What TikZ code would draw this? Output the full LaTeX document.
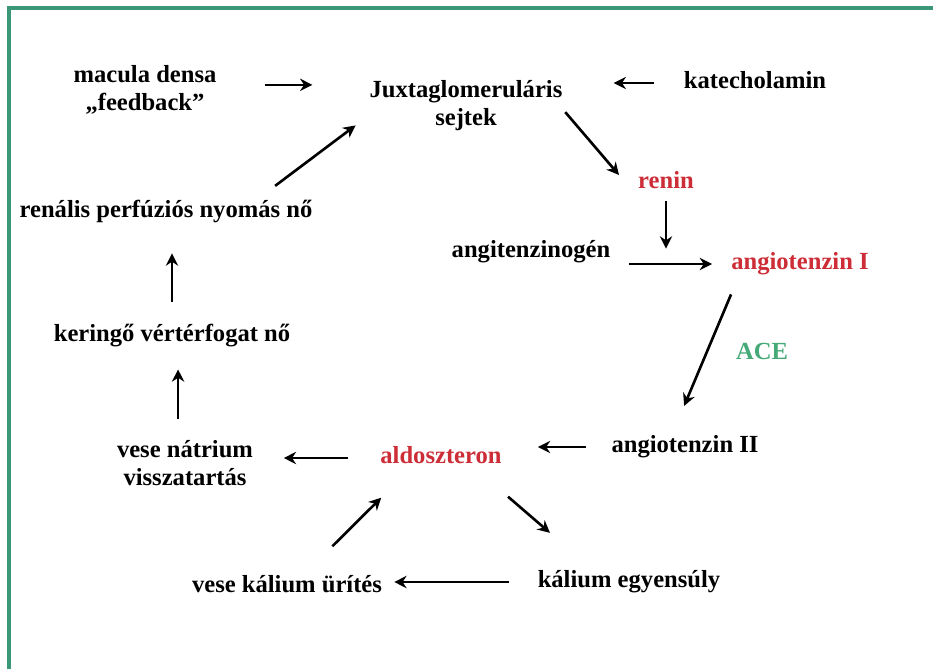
\documentclass[tikz,border=0pt]{standalone}
\usepackage{fontspec}
\setmainfont{Liberation Serif}
\usetikzlibrary{arrows.meta,calc}
\definecolor{keret}{RGB}{60,150,120}
\definecolor{piros}{RGB}{205,45,55}
\definecolor{zold}{RGB}{70,170,120}

\begin{document}
\begin{tikzpicture}[->,>={Stealth[length=7pt,width=7pt]},line width=1.5pt,
                    x=0.02cm,y=-0.02cm,font=\fontsize{14}{16}\selectfont\bfseries]
  \tikzstyle{cimke}=[inner sep=0pt,text height=9.8pt,text depth=3.4pt]
  \tikzstyle{cimke2}=[inner sep=0pt,align=center]

  \useasboundingbox (0,0) rectangle (933,669);
  \draw[-,keret,line width=2pt] (9,669) -- (9,8) -- (933,8);

  \node[cimke2] (mac)   at (145,90)  {macula densa\\„feedback”};
  \node[cimke2] (jux)   at (466,106) {Juxtaglomeruláris\\sejtek};
  \node[cimke]  (kat)   at (755,83)  {katecholamin};
  \node[cimke,text=piros] (renin) at (666,183) {renin};
  \node[cimke]  (angen) at (531,252) {angitenzinogén};
  \node[cimke,text=piros] (ang1) at (800,264) {angiotenzin I};
  \node[cimke,text=zold]  (ace)  at (762,354) {ACE};
  \node[cimke]  (ang2)  at (685,447) {angiotenzin II};
  \node[cimke,text=piros] (aldo) at (441,458) {aldoszteron};
  \node[cimke2] (natr)  at (185,463) {vese nátrium\\visszatartás};
  \node[cimke]  (ker)   at (172,336) {keringő vértérfogat nő};
  \node[cimke]  (ren)   at (166,212) {renális perfúziós nyomás nő};
  \node[cimke]  (kal)   at (629,582) {kálium egyensúly};
  \node[cimke]  (vkal)  at (287,587) {vese kálium ürítés};

  \coordinate (mac-ki) at ($(mac.east)!.2!(mac.north east)$);
  \coordinate (natr-ki) at ($(natr.north)!.1!(natr.north west)$);

  \draw[shorten <=0.94cm,shorten >=1.12cm] (mac-ki) -- (mac-ki -| jux.west);
  \draw[shorten <=0.58cm,shorten >=1cm] (kat.west) -- (kat.west -| jux.east);
  \draw[shorten <=0.05cm,shorten >=0.55cm] ($(jux.east)!.16!(jux.south east)$) -- (renin.south west);
  \draw[shorten <=0.11cm,shorten >=0.05cm] (renin.south) -- (renin.south |- ang1.north);
  \draw[shorten <=0.35cm,shorten >=0.36cm] (angen.east |- ang1.west) -- (ang1.west);
  \draw[shorten <=0.38cm,shorten >=0.61cm] ($(ang1.south west)!.12!(ang1.south)$) -- ($(ang2.north west)!.83!(ang2.north)$);
  \draw[shorten <=0.48cm,shorten >=0.7cm] (ang2.west) -- (ang2.west -| aldo.east);
  \draw[shorten <=0.62cm,shorten >=0.59cm] (aldo.west) -- (aldo.west -| natr.east);
  \draw[shorten <=0.79cm,shorten >=1.11cm] ($(aldo.south)!.6!(aldo.south east)$) -- ($(kal.north west)!.6!(kal.north)$);
  \draw[shorten <=0.55cm,shorten >=0.22cm] (kal.west) -- (kal.west -| vkal.east);
  \draw[shorten <=0.79cm,shorten >=0.76cm] ($(vkal.north)!.18!(vkal.north east)$) -- ($(aldo.south west)!.47!(aldo.south)$);
  \draw[shorten <=0.39cm,shorten >=0.41cm] (natr-ki) -- (natr-ki |- ker.south);
  \draw[shorten <=0.43cm,shorten >=0.57cm] (ker.north) -- (ker.north |- ren.south);
  \draw[shorten <=0.44cm,shorten >=0.32cm] ($(ren.north)!.62!(ren.north east)$) -- ($(jux.west)!.37!(jux.south west)$);
\end{tikzpicture}
\end{document}
